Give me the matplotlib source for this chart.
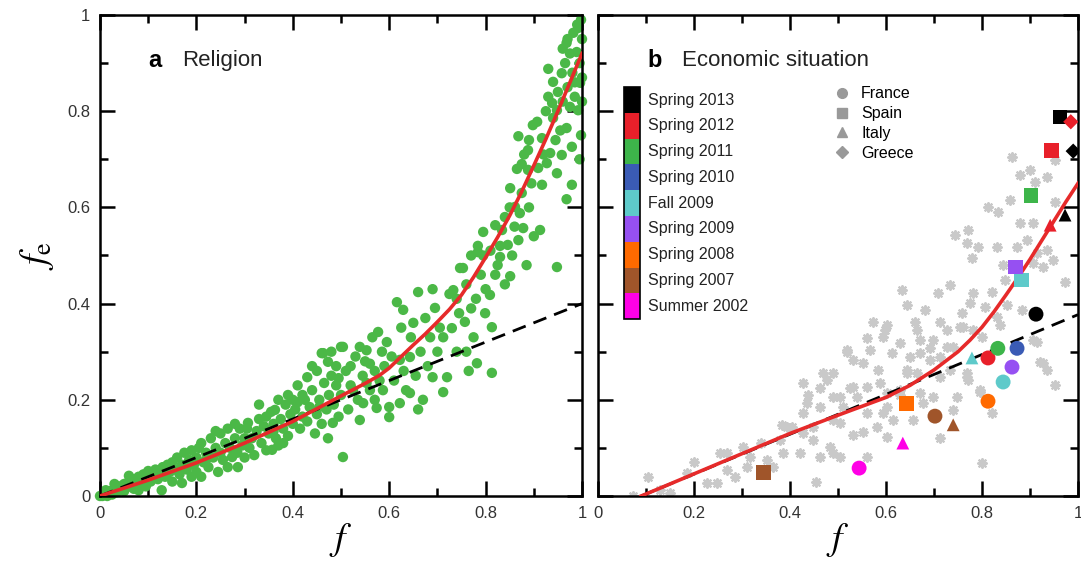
import numpy as np
import matplotlib
matplotlib.use("Agg")
import matplotlib.pyplot as plt
from matplotlib.lines import Line2D
from matplotlib.patches import Rectangle
from matplotlib.ticker import MultipleLocator, FuncFormatter

plt.rcParams['font.family'] = ['Liberation Sans', 'DejaVu Sans']
plt.rcParams['mathtext.fontset'] = 'stix'

# ---- panel a: religion, green survey points ----
green_x = [0.0, 0.005, 0.01, 0.012, 0.015, 0.02, 0.025, 0.03, 0.03, 0.035, 0.04, 0.045, 0.05, 0.05, 0.055,
           0.06, 0.06, 0.065, 0.07, 0.07, 0.075, 0.08, 0.08, 0.085, 0.09, 0.09, 0.095, 0.1, 0.1,
           0.105, 0.11, 0.115, 0.12, 0.125, 0.128, 0.13, 0.135, 0.14, 0.145, 0.15, 0.15, 0.155, 0.16, 0.165,
           0.17, 0.17, 0.175, 0.18, 0.185, 0.19, 0.19, 0.195, 0.2, 0.2,
           0.205, 0.21, 0.21, 0.215, 0.22, 0.225, 0.23, 0.235, 0.24, 0.245, 0.25, 0.25, 0.255, 0.26, 0.265,
           0.27, 0.274, 0.28, 0.285, 0.286, 0.29, 0.295, 0.3, 0.3, 0.24, 0.265, 0.22, 0.28,
           0.305, 0.307, 0.31, 0.315, 0.32, 0.325, 0.33, 0.335, 0.34, 0.345, 0.35, 0.355, 0.357, 0.36, 0.363,
           0.365, 0.37, 0.375, 0.38, 0.385, 0.39, 0.39, 0.395, 0.4, 0.4, 0.33, 0.37, 0.345, 0.38, 0.36,
           0.405, 0.41, 0.415, 0.42, 0.425, 0.43, 0.43, 0.435, 0.44, 0.446, 0.45, 0.45, 0.455, 0.46, 0.46,
           0.465, 0.47, 0.473, 0.473, 0.475, 0.48, 0.483, 0.485, 0.49, 0.49, 0.495, 0.5, 0.5, 0.463, 0.44,
           0.42, 0.48, 0.455, 0.495, 0.41,
           0.504, 0.504, 0.51, 0.515, 0.52, 0.525, 0.53, 0.535, 0.539, 0.539, 0.545, 0.546, 0.55, 0.553, 0.553,
           0.56, 0.565, 0.57, 0.574, 0.577, 0.58, 0.585, 0.587, 0.59, 0.6, 0.6, 0.595, 0.56, 0.52, 0.57,
           0.605, 0.61, 0.616, 0.622, 0.622, 0.625, 0.629, 0.63, 0.635, 0.643, 0.643, 0.645, 0.65, 0.655, 0.66,
           0.665, 0.67, 0.675, 0.68, 0.685, 0.69, 0.695, 0.7, 0.66, 0.69,
           0.705, 0.712, 0.712, 0.72, 0.725, 0.73, 0.733, 0.74, 0.745, 0.747, 0.753, 0.757, 0.76, 0.765, 0.77,
           0.775, 0.78, 0.782, 0.784, 0.784, 0.79, 0.795, 0.799, 0.8, 0.74, 0.77, 0.76, 0.795,
           0.809, 0.813, 0.813, 0.82, 0.825, 0.83, 0.834, 0.84, 0.846, 0.85, 0.851, 0.851, 0.855, 0.861, 0.865,
           0.868, 0.868, 0.871, 0.875, 0.878, 0.88, 0.885, 0.888, 0.888, 0.89, 0.895, 0.898, 0.9, 0.86, 0.83,
           0.82, 0.875, 0.84, 0.89, 0.81,
           0.907, 0.909, 0.913, 0.917, 0.917, 0.92, 0.925, 0.927, 0.93, 0.934, 0.938, 0.94, 0.94, 0.945, 0.948,
           0.948, 0.948, 0.95, 0.955, 0.958, 0.958, 0.96, 0.965, 0.968, 0.968, 0.968, 0.97, 0.975, 0.975, 0.979,
           0.979, 0.98, 0.982, 0.985, 0.989, 0.99, 0.992, 0.992, 0.995, 0.996, 0.998, 1.0, 1.0, 1.0, 0.998,
           0.995, 0.96, 0.985, 0.93, 0.97]
green_y = [0.0, 0.0, 0.005, 0.012, 0.0, 0.01, 0.003, 0.015, 0.025, 0.008, 0.02, 0.012, 0.025, 0.01, 0.018,
           0.03, 0.042, 0.02, 0.035, 0.015, 0.028, 0.04, 0.012, 0.025, 0.045, 0.03, 0.02, 0.04, 0.052,
           0.03, 0.045, 0.055, 0.035, 0.05, 0.012, 0.06, 0.04, 0.065, 0.05, 0.03, 0.07, 0.055, 0.08, 0.045,
           0.027, 0.065, 0.09, 0.055, 0.075, 0.04, 0.095, 0.065, 0.08, 0.05,
           0.1, 0.04, 0.11, 0.07, 0.09, 0.06, 0.12, 0.08, 0.1, 0.05, 0.09, 0.13, 0.075, 0.11, 0.06,
           0.1, 0.081, 0.12, 0.09, 0.06, 0.14, 0.105, 0.08, 0.12, 0.135, 0.14, 0.075, 0.15,
           0.14, 0.152, 0.1, 0.12, 0.085, 0.135, 0.16, 0.11, 0.145, 0.095, 0.13, 0.175, 0.096, 0.15, 0.179,
           0.12, 0.105, 0.16, 0.14, 0.19, 0.21, 0.125, 0.17, 0.15, 0.2, 0.19, 0.2, 0.165, 0.11, 0.135,
           0.18, 0.23, 0.14, 0.165, 0.2, 0.247, 0.155, 0.185, 0.22, 0.13, 0.17, 0.26, 0.2, 0.297, 0.15,
           0.235, 0.18, 0.279, 0.12, 0.21, 0.25, 0.152, 0.19, 0.27, 0.23, 0.165, 0.21, 0.31, 0.297, 0.27,
           0.21, 0.3, 0.185, 0.245, 0.195,
           0.081, 0.31, 0.26, 0.18, 0.23, 0.22, 0.29, 0.2, 0.31, 0.158, 0.25, 0.193, 0.28, 0.235, 0.303,
           0.22, 0.33, 0.26, 0.183, 0.341, 0.24, 0.3, 0.22, 0.27, 0.185, 0.164, 0.32, 0.275, 0.27, 0.2,
           0.29, 0.24, 0.403, 0.193, 0.283, 0.35, 0.387, 0.26, 0.22, 0.214, 0.289, 0.33, 0.36, 0.25, 0.424,
           0.3, 0.2, 0.37, 0.27, 0.33, 0.247, 0.391, 0.3, 0.18, 0.43,
           0.35, 0.33, 0.216, 0.247, 0.42, 0.349, 0.428, 0.3, 0.38, 0.474, 0.474, 0.362, 0.44, 0.26, 0.5,
           0.33, 0.41, 0.276, 0.507, 0.52, 0.46, 0.549, 0.38, 0.43, 0.41, 0.39, 0.3, 0.5,
           0.418, 0.351, 0.256, 0.563, 0.48, 0.497, 0.553, 0.44, 0.522, 0.6, 0.457, 0.64, 0.5, 0.601, 0.68,
           0.532, 0.748, 0.588, 0.63, 0.557, 0.71, 0.48, 0.678, 0.719, 0.6, 0.65, 0.771, 0.54, 0.56, 0.52,
           0.46, 0.69, 0.58, 0.74, 0.51,
           0.778, 0.682, 0.553, 0.744, 0.647, 0.71, 0.8, 0.692, 0.888, 0.713, 0.817, 0.861, 0.786, 0.74, 0.802,
           0.671, 0.476, 0.84, 0.76, 0.879, 0.709, 0.82, 0.9, 0.942, 0.765, 0.617, 0.85, 0.809, 0.92, 0.726,
           0.647, 0.88, 0.963, 0.83, 0.923, 0.98, 0.973, 0.802, 0.9, 0.859, 0.99, 0.95, 0.87, 0.82, 0.75,
           0.7, 0.93, 0.86, 0.83, 0.95]

fit_a_x = [0.0, 0.1, 0.2, 0.3, 0.4, 0.5, 0.55, 0.58, 0.6, 0.625, 0.65, 0.675, 0.7, 0.725, 0.75, 0.775,
           0.8, 0.825, 0.85, 0.875, 0.9, 0.925, 0.95, 0.975, 1.0]
fit_a_y = [0.0, 0.033, 0.069, 0.11, 0.155, 0.208, 0.234, 0.251, 0.266, 0.29, 0.314, 0.337, 0.362, 0.388,
           0.418, 0.455, 0.496, 0.538, 0.583, 0.633, 0.687, 0.742, 0.8, 0.86, 0.92]
lin_a_x = [0.0, 1.0]
lin_a_y = [0.0, 0.4]

# ---- panel b: economic situation ----
gray_x = [0.8625, 0.879, 0.9, 0.91, 0.935, 0.952, 0.952, 0.858, 0.8125, 0.833, 0.879, 0.906, 0.771, 0.744,
          0.769, 0.792, 0.831, 0.873, 0.894, 0.915, 0.935, 0.948, 0.779, 0.844, 0.906, 0.927, 0.848, 0.973,
          0.733, 0.708, 0.633, 0.781, 0.821, 0.806, 0.775, 0.852, 0.883, 0.644, 0.681, 0.758, 0.831, 0.8375,
          0.573, 0.602, 0.66, 0.665, 0.727, 0.76, 0.781, 0.8, 0.594, 0.629, 0.671, 0.692, 0.74, 0.56, 0.519,
          0.567, 0.6125, 0.65, 0.7125, 0.531, 0.552, 0.583, 0.644, 0.665, 0.733, 0.769, 0.771, 0.915, 0.921,
          0.935, 0.952, 0.469, 0.49, 0.477, 0.427, 0.4625, 0.525, 0.56, 0.5875, 0.49, 0.54, 0.602, 0.629,
          0.698, 0.796, 0.435, 0.51, 0.602, 0.677, 0.74, 0.56,
          0.598, 0.754, 0.906, 0.927, 0.519, 0.4375, 0.4625, 0.504, 0.531, 0.594, 0.615, 0.581, 0.552,
          0.531, 0.602, 0.504, 0.49, 0.448, 0.427, 0.394, 0.379, 0.448, 0.421, 0.4625, 0.49, 0.504, 0.56,
          0.352, 0.317, 0.302, 0.31, 0.254, 0.269, 0.269, 0.227, 0.248, 0.185, 0.129, 0.104, 0.073, 0.15,
          0.671, 0.692, 0.698, 0.727, 0.7125, 0.748, 0.7125, 0.629, 0.671, 0.656, 0.8, 0.796, 0.821, 0.769,
          0.644, 0.7125, 0.285, 0.383, 0.404, 0.427, 0.483, 0.385, 0.365, 0.2, 0.34, 0.455]
gray_y = [0.705, 0.667, 0.678, 0.653, 0.663, 0.699, 0.611, 0.615, 0.601, 0.59, 0.567, 0.567, 0.553, 0.543,
          0.526, 0.518, 0.518, 0.518, 0.532, 0.505, 0.511, 0.491, 0.495, 0.48, 0.484, 0.476, 0.449, 0.445,
          0.439, 0.422, 0.428, 0.422, 0.424, 0.393, 0.401, 0.397, 0.387, 0.397, 0.387, 0.38, 0.372, 0.355,
          0.362, 0.355, 0.362, 0.345, 0.345, 0.351, 0.345, 0.331, 0.331, 0.318, 0.324, 0.308, 0.31, 0.328, 0.304,
          0.304, 0.297, 0.289, 0.289, 0.283, 0.276, 0.262, 0.262, 0.256, 0.262, 0.256, 0.241, 0.32, 0.279,
          0.262, 0.231, 0.256, 0.256, 0.241, 0.235, 0.225, 0.225, 0.227, 0.235, 0.206, 0.206, 0.214, 0.21,
          0.206, 0.216, 0.193, 0.185, 0.185, 0.193, 0.179, 0.173,
          0.345, 0.351, 0.324, 0.276, 0.299, 0.21, 0.185, 0.206, 0.227, 0.173, 0.158, 0.143, 0.133,
          0.127, 0.123, 0.152, 0.158, 0.143, 0.131, 0.143, 0.116, 0.116, 0.089, 0.081, 0.089, 0.081, 0.081,
          0.075, 0.081, 0.102, 0.06, 0.089, 0.089, 0.054, 0.027, 0.027, 0.048, 0.012, 0.04, 0.0, 0.006,
          0.297, 0.283, 0.324, 0.31, 0.247, 0.206, 0.121, 0.22, 0.214, 0.158, 0.069, 0.22, 0.173, 0.247,
          0.256, 0.362, 0.04, 0.148, 0.143, 0.173, 0.102, 0.089, 0.06, 0.07, 0.11, 0.03]

survey_labels = ['Spring 2013', 'Spring 2012', 'Spring 2011', 'Spring 2010', 'Fall 2009',
                 'Spring 2009', 'Spring 2008', 'Spring 2007', 'Summer 2002']
survey_colors = ['#000000', '#e8202a', '#3db54a', '#3a5bb5', '#5ecaca',
                 '#9650f2', '#ff6a00', '#a0552a', '#ff00e6']
countries = ['France', 'Spain', 'Italy', 'Greece']
country_markers = ['o', 's', '^', 'D']
country_sizes = [115, 115, 85, 60]

obs_survey = [0, 0, 0, 0, 1, 1, 1, 1, 2, 2, 3, 4, 4, 4, 5, 5, 6, 6, 7, 7, 7, 8, 8]
obs_country = [1, 3, 2, 0, 3, 1, 2, 0, 1, 0, 0, 1, 2, 0, 1, 0, 0, 1, 0, 2, 1, 2, 0]
obs_x = [0.9625, 0.99, 0.973, 0.9125, 0.985, 0.944, 0.942, 0.8125, 0.902, 0.833, 0.873, 0.883, 0.779,
         0.844, 0.869, 0.8625, 0.8125, 0.642, 0.702, 0.74, 0.344, 0.635, 0.544]
obs_y = [0.788, 0.717, 0.584, 0.378, 0.778, 0.719, 0.563, 0.287, 0.624, 0.307, 0.307, 0.449, 0.287,
         0.237, 0.476, 0.268, 0.197, 0.193, 0.166, 0.148, 0.048, 0.110, 0.058]

fit_b_x = [0.09, 0.15, 0.2, 0.3, 0.4, 0.5, 0.6, 0.65, 0.7, 0.75, 0.775, 0.8, 0.825, 0.85, 0.875, 0.9,
           0.925, 0.95, 0.975, 1.0]
fit_b_y = [0.0, 0.025, 0.046, 0.088, 0.13, 0.168, 0.205, 0.23, 0.262, 0.3, 0.324, 0.351, 0.383, 0.418,
           0.454, 0.492, 0.532, 0.572, 0.612, 0.65]
lin_b_x = [0.09, 1.0]
lin_b_y = [0.0, 0.377]

red = '#e62a2a'
tick_fmt = FuncFormatter(lambda v, p: '%g' % round(v, 2))

fig = plt.figure(figsize=(10.81, 5.61), dpi=100)
ax1 = fig.add_axes([100 / 1081, 1 - 496 / 561, 482 / 1081, 481 / 561])
ax2 = fig.add_axes([598 / 1081, 1 - 496 / 561, 480 / 1081, 481 / 561])

for ax in (ax1, ax2):
    ax.set_xlim(0, 1)
    ax.set_ylim(0, 1)
    ax.xaxis.set_major_locator(MultipleLocator(0.2))
    ax.xaxis.set_minor_locator(MultipleLocator(0.1))
    ax.yaxis.set_major_locator(MultipleLocator(0.2))
    ax.yaxis.set_minor_locator(MultipleLocator(0.1))
    ax.xaxis.set_major_formatter(tick_fmt)
    ax.yaxis.set_major_formatter(tick_fmt)
    ax.tick_params(which='both', direction='in', top=True, right=True, width=1.8,
                   labelsize=12, labelcolor='#333333', pad=7)
    ax.tick_params(which='major', length=11)
    ax.tick_params(which='minor', length=6)
    for s in ax.spines.values():
        s.set_linewidth(1.8)
    ax.set_xlabel(r'$f$', fontsize=27, labelpad=0)

# panel a
ax1.scatter(green_x, green_y, s=56, color='#4bb847', edgecolors='none', zorder=2, clip_on=False)
ax1.plot(lin_a_x, lin_a_y, color='black', lw=2, dashes=(5, 3), zorder=3)
ax1.plot(fit_a_x, fit_a_y, color=red, lw=2.6, zorder=4, solid_joinstyle='round')
ax1.set_ylabel(r'$f_{\rm e}$', fontsize=27, labelpad=8)
ax1.text(0.1, 0.905, 'a', fontsize=17, fontweight='bold', va='center')
ax1.text(0.17, 0.905, 'Religion', fontsize=16, va='center', color='#222222')

# panel b
ax2.tick_params(axis='y', labelleft=False)
ax2.scatter(gray_x, gray_y, s=38, marker=(8, 2, 0), color='#c9c9c9', linewidths=1.6, zorder=2)
ax2.plot(lin_b_x, lin_b_y, color='black', lw=2, dashes=(5, 3), zorder=3)
ax2.plot(fit_b_x, fit_b_y, color=red, lw=2.6, zorder=4, solid_joinstyle='round')
for i in range(len(obs_x)):
    c = obs_country[i]
    ax2.scatter(obs_x[i], obs_y[i], s=country_sizes[c], marker=country_markers[c],
                color=survey_colors[obs_survey[i]], edgecolors='none', zorder=5)
ax2.text(0.104, 0.905, 'b', fontsize=17, fontweight='bold', va='center')
ax2.text(0.175, 0.905, 'Economic situation', fontsize=16, va='center', color='#222222')

# survey colour key
top, h = 0.850, 0.0536
for i, lab in enumerate(survey_labels):
    y0 = top - (i + 1) * h
    ax2.add_patch(Rectangle((0.054, y0), 0.034, h, transform=ax2.transAxes,
                            facecolor=survey_colors[i], edgecolor='none', zorder=6))
    ax2.text(0.104, y0 + h / 2, lab, transform=ax2.transAxes, fontsize=11.5,
             va='center', color='#222222')
ax2.add_patch(Rectangle((0.054, top - 9 * h), 0.034, 9 * h, transform=ax2.transAxes,
                        facecolor='none', edgecolor='black', lw=1.2, zorder=7))

# country marker key
handles = [Line2D([], [], ls='none', marker=m, color='#999999', markersize=7 if m != 'D' else 6)
           for m in country_markers]
ax2.legend(handles, countries, loc='upper left', bbox_to_anchor=(0.465, 0.875), frameon=False,
           fontsize=11.5, handlelength=1.2, handletextpad=0.6, labelspacing=0.3, borderpad=0.2)

fig.savefig('out.png', dpi=100)
